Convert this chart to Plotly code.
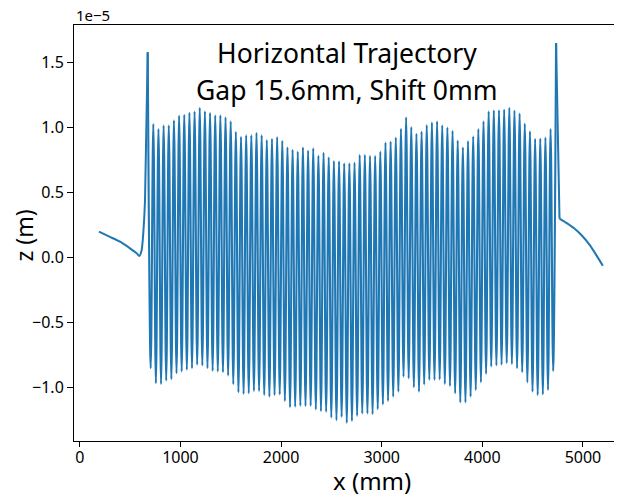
import plotly.graph_objects as go

# z values in units of 1e-5 m (axis shows "1e-5"), x in mm
lead_in_x = [190, 300, 400, 499, 565, 591, 615, 631, 648, 675]
lead_in_z = [0.20, 0.16, 0.123, 0.072, 0.034, 0.013, 0.059, 0.19, 0.44, 1.58]

lead_out_x = [4733, 4767, 4823, 4906, 4989, 5072, 5136, 5198]
lead_out_z = [1.651, 0.30, 0.274, 0.230, 0.171, 0.093, 0.016, -0.062]

# undulator section: troughs and peaks alternate, one of each per period
first_trough_mm = 704.8
period_mm = 51.27

peak_z = [
    1.029, 0.99, 1.018, 1.018, 1.057, 1.093, 1.10, 1.116, 1.124, 1.153,
    1.127, 1.114, 1.095, 1.095, 1.080, 1.049, 0.969, 0.930, 0.943, 0.943,
    0.961, 0.943, 0.905, 0.915, 0.928, 0.899, 0.849, 0.83, 0.816, 0.85,
    0.824, 0.843, 0.785, 0.808, 0.773, 0.744, 0.742, 0.726, 0.726, 0.731,
    0.791, 0.791, 0.783, 0.783, 0.816, 0.886, 0.894, 0.925, 0.992, 1.080,
    1.005, 0.953, 0.97, 1.02, 1.041, 1.05, 1.018, 1.002, 0.977, 0.902,
    0.850, 0.897, 0.933, 0.990, 1.049, 1.127, 1.134, 1.134, 1.140, 1.153,
    1.132, 1.109, 1.031, 0.972, 0.915, 0.917, 0.925, 0.990,
]

trough_z = [
    -0.850, -0.966, -0.972, -0.946, -0.935, -0.889, -0.876, -0.863, -0.850, -0.824,
    -0.829, -0.850, -0.871, -0.876, -0.881, -0.907, -0.974, -1.036, -1.049, -1.044,
    -1.026, -1.026, -1.057, -1.070, -1.057, -1.052, -1.103, -1.150, -1.147, -1.140,
    -1.142, -1.140, -1.168, -1.181, -1.186, -1.230, -1.251, -1.225, -1.271, -1.256,
    -1.217, -1.199, -1.199, -1.204, -1.165, -1.129, -1.103, -1.070, -1.031, -0.915,
    -0.928, -0.997, -1.031, -0.976, -0.940, -0.940, -0.937, -0.972, -0.987, -1.044,
    -1.114, -1.114, -1.070, -1.018, -0.959, -0.894, -0.837, -0.829, -0.824, -0.811,
    -0.819, -0.850, -0.881, -0.959, -1.031, -1.057, -1.052, -1.018, -0.871,
]

x_ticks = [0, 1000, 2000, 3000, 4000, 5000]
y_ticks = [-1.0, -0.5, 0.0, 0.5, 1.0, 1.5]
y_tick_text = ["\u22121.0", "\u22120.5", "0.0", "0.5", "1.0", "1.5"]

title_lines = ["Horizontal Trajectory", "Gap 15.6mm, Shift 0mm"]

# build undulator oscillation (spike - trough - peak - ... - trough - spike)
ux = [lead_in_x[-1]]
uz = [lead_in_z[-1]]
for i, tz in enumerate(trough_z):
    ux.append(first_trough_mm + i * period_mm)
    uz.append(tz)
    if i < len(peak_z):
        ux.append(first_trough_mm + (i + 0.5) * period_mm)
        uz.append(peak_z[i])
ux.append(lead_out_x[0])
uz.append(lead_out_z[0])

color = "#1f77b4"
FONT = "Noto Sans"

# page has an 8px body margin: figure origin sits at page (8, 8)
OFF = 8
W, H = 614, 487
PL, PT, PB = 74, 25, 441          # page coords of left / top / bottom spine
ml, mt, mb = PL - OFF, PT - OFF, H - (PB - OFF)
plot_w = W - ml
plot_h = H - mt - mb


def px(xp):
    return (xp - PL) / plot_w


def py(yp):
    return (PB - yp) / plot_h


fig = go.Figure()
fig.add_trace(go.Scatter(x=lead_in_x, y=lead_in_z, mode="lines",
                         line=dict(color=color, width=2, shape="spline", smoothing=0.6),
                         hoverinfo="skip"))
fig.add_trace(go.Scatter(x=ux, y=uz, mode="lines",
                         line=dict(color=color, width=2.1, shape="spline", smoothing=1),
                         hoverinfo="skip"))
fig.add_trace(go.Scatter(x=lead_out_x[:2], y=lead_out_z[:2], mode="lines",
                         line=dict(color=color, width=2), hoverinfo="skip"))
fig.add_trace(go.Scatter(x=lead_out_x[1:], y=lead_out_z[1:], mode="lines",
                         line=dict(color=color, width=2, shape="spline", smoothing=0.6),
                         hoverinfo="skip"))

fig.update_layout(
    width=W, height=H,
    margin=dict(l=ml, r=0, t=mt, b=mb, autoexpand=False),
    paper_bgcolor="white", plot_bgcolor="white",
    showlegend=False,
    font=dict(family=FONT, color="black", size=16),
    xaxis=dict(range=[-57.6, 5388], tickvals=x_ticks, ticks="outside", ticklen=5,
               tickwidth=1, tickcolor="black", showline=True, linecolor="black",
               linewidth=1, mirror=True, showgrid=False, zeroline=False,
               automargin=False, ticklabelstandoff=-3,
               tickfont=dict(size=16, family=FONT)),
    yaxis=dict(range=[-1.410, 1.790], tickvals=y_ticks, ticktext=y_tick_text,
               ticks="outside", ticklen=6, tickwidth=1, tickcolor="black",
               showline=True, linecolor="black", linewidth=1, showgrid=False,
               zeroline=False, automargin=False, tickfont=dict(size=16, family=FONT)),
)

ann = []
ann.append(dict(text=title_lines[0], xref="paper", yref="paper",
                x=px(347), y=py(53), xanchor="center", yanchor="middle",
                showarrow=False, font=dict(size=26.5, family=FONT, color="black")))
ann.append(dict(text=title_lines[1], xref="paper", yref="paper",
                x=px(347), y=py(90), xanchor="center", yanchor="middle",
                showarrow=False, font=dict(size=26.5, family=FONT, color="black")))
ann.append(dict(text="1e\u22125", xref="paper", yref="paper", x=0, y=1,
                xanchor="left", yanchor="bottom", yshift=-2, showarrow=False,
                font=dict(size=15, family=FONT, color="black")))
ann.append(dict(text="x (mm)", xref="paper", yref="paper",
                x=px(372), y=py(480), xanchor="center", yanchor="middle",
                showarrow=False, font=dict(size=24, family=FONT, color="black")))
ann.append(dict(text="z (m)", xref="paper", yref="paper",
                x=px(23.5), y=py(236), xanchor="center", yanchor="middle",
                textangle=-90, showarrow=False, font=dict(size=23, family=FONT, color="black")))
fig.update_layout(annotations=ann)

fig.write_html("out.html")
